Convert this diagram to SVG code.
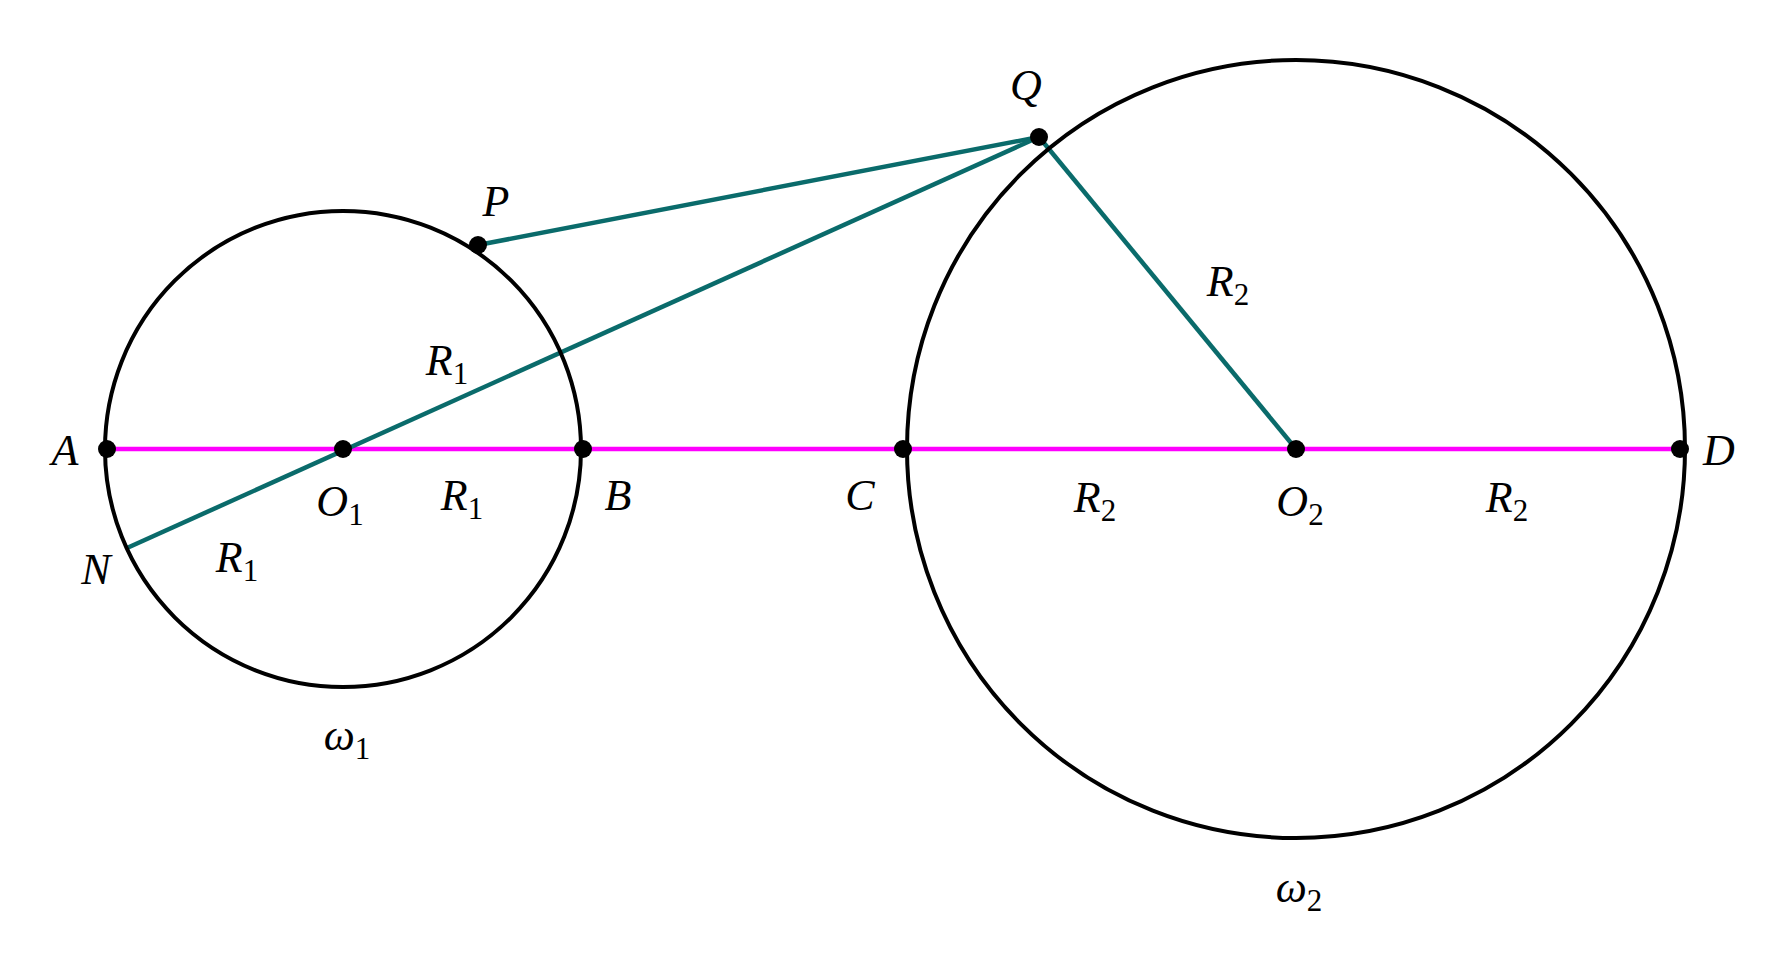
<svg xmlns="http://www.w3.org/2000/svg" width="1767" height="960" viewBox="0 0 1767 960">
<style>
.c{fill:none;stroke:#000;stroke-width:4}
.t{stroke:#0a6b6b;stroke-width:4.5;fill:none}
.m{stroke:#ff00ff;stroke-width:4.5}
.d{fill:#000}
text{font-family:"Liberation Serif",serif;font-style:italic;font-size:44px;text-anchor:middle}
.s{font-size:31px;font-style:normal}
</style>
<rect width="1767" height="960" fill="#fff"/>
<g id="connectors">
<line class="m" x1="107" y1="449" x2="1680" y2="449"/>
<line class="t" x1="478" y1="245" x2="1039" y2="137"/>
<line class="t" x1="127" y1="548" x2="1039" y2="137"/>
<line class="t" x1="1039" y1="137" x2="1296" y2="449"/>
</g>
<g id="omega1"><circle class="c" cx="343" cy="449" r="238"/></g>
<g id="omega2"><circle class="c" cx="1296" cy="449" r="389"/></g>
<g id="points">
<circle class="d" cx="107" cy="449" r="9"/>
<circle class="d" cx="343" cy="449" r="9"/>
<circle class="d" cx="583" cy="449" r="9"/>
<circle class="d" cx="903" cy="449" r="9"/>
<circle class="d" cx="1296" cy="449" r="9"/>
<circle class="d" cx="1680" cy="449" r="9"/>
<circle class="d" cx="478" cy="245" r="9"/>
<circle class="d" cx="1039" cy="137" r="9"/>
</g>
<g id="labels">
<text x="65" y="465">A</text>
<text x="618" y="510">B</text>
<text x="860" y="510">C</text>
<text x="1719" y="465">D</text>
<text x="96" y="584">N</text>
<text x="496" y="216">P</text>
<text x="1026" y="100">Q</text>
<text x="340" y="516">O<tspan class="s" dy="9">1</tspan></text>
<text x="1300" y="516">O<tspan class="s" dy="9">2</tspan></text>
<text x="447" y="375">R<tspan class="s" dy="9">1</tspan></text>
<text x="462" y="510">R<tspan class="s" dy="9">1</tspan></text>
<text x="237" y="572">R<tspan class="s" dy="9">1</tspan></text>
<text x="1228" y="296">R<tspan class="s" dy="9">2</tspan></text>
<text x="1095" y="512">R<tspan class="s" dy="9">2</tspan></text>
<text x="1507" y="512">R<tspan class="s" dy="9">2</tspan></text>
<text x="347" y="750">ω<tspan class="s" dy="9">1</tspan></text>
<text x="1299" y="902">ω<tspan class="s" dy="9">2</tspan></text>
</g>
</svg>
